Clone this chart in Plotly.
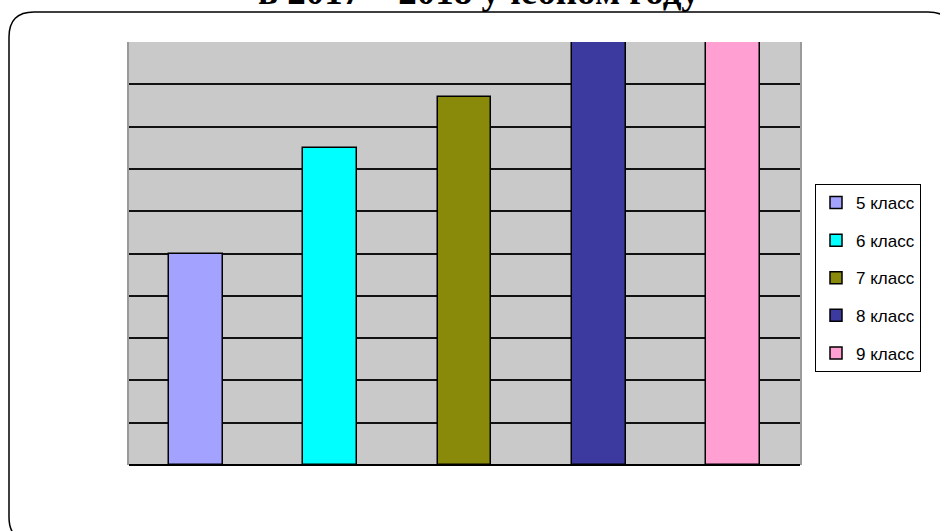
import plotly.graph_objects as go

# Data
categories = ["5 класс", "6 класс", "7 класс", "8 класс", "9 класс"]
values = [5.0, 7.5, 8.7, 10.0, 10.0]
colors = ["#A3A3FF", "#00FFFF", "#8A8A0A", "#3D3A9F", "#FF9FD2"]
title_text = "в 2017 – 2018 учебном году"

W, H = 940, 531
L, R, T, B = 129, 140, 42, 66
PW, PH = W - L - R, H - T - B


def px(x):
    return (x - L) / PW


def py(y):
    return (H - B - y) / PH


fig = go.Figure()
for cat, val, col in zip(categories, values, colors):
    fig.add_trace(go.Bar(
        x=[cat], y=[val], name=cat, width=0.4,
        marker=dict(color=col, line=dict(color="black", width=1.5)),
        legendgroup=cat,
    ))

# rounded frame
l, t, r, b, rad = 9, 12, 953, 542, 25
pts = [
    ("M", [(l + rad, t)]),
    ("L", [(r - rad, t)]),
    ("Q", [(r, t), (r, t + rad)]),
    ("L", [(r, b - rad)]),
    ("Q", [(r, b), (r - rad, b)]),
    ("L", [(l + rad, b)]),
    ("Q", [(l, b), (l, b - rad)]),
    ("L", [(l, t + rad)]),
    ("Q", [(l, t), (l + rad, t)]),
]
path = ""
for cmd, ps in pts:
    path += cmd + " " + " ".join(f"{px(x):.5f},{py(y):.5f}" for x, y in ps) + " "
path += "Z"

fig.add_shape(type="path", path=path, xref="paper", yref="paper",
              line=dict(color="black", width=1.5), layer="below")

fig.add_annotation(
    text=title_text, xref="paper", yref="paper",
    x=px(479), y=py(14), xanchor="center", yanchor="bottom",
    showarrow=False,
    font=dict(family="Liberation Serif", size=37, color="black", weight="bold"),
)

fig.update_layout(
    width=W, height=H,
    margin=dict(l=L, r=R, t=T, b=B, autoexpand=False),
    paper_bgcolor="white",
    plot_bgcolor="#C9C9C9",
    barmode="overlay",
    bargap=0,
    showlegend=True,
    legend=dict(
        x=px(815), y=py(184), xanchor="left", yanchor="top",
        bgcolor="white", bordercolor="black", borderwidth=1,
        font=dict(family="Liberation Sans", size=17, color="black"),
        traceorder="grouped", tracegroupgap=12.5, itemwidth=30,
    ),
    xaxis=dict(type="category", range=[-0.5, 4.5], showticklabels=False,
               showgrid=False, showline=False, zeroline=False, ticks="",
               fixedrange=True),
    yaxis=dict(range=[0, 10], dtick=1, showticklabels=False, ticks="",
               showgrid=True, gridcolor="#111111", gridwidth=1.5,
               showline=True, linecolor="#9A9A9A", linewidth=2, mirror=True,
               zeroline=True, zerolinecolor="black", zerolinewidth=2,
               fixedrange=True),
)

fig.write_html("out.html", config={"displayModeBar": False},
               post_script="document.body.style.margin='0';")
